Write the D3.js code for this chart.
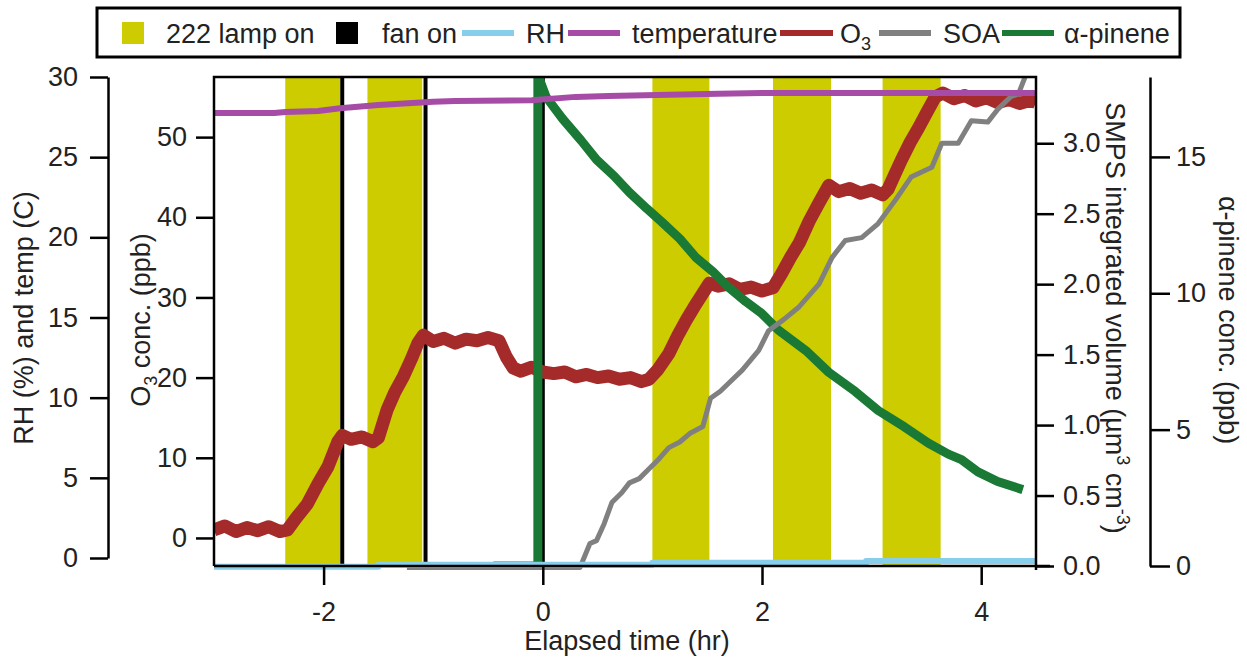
<!DOCTYPE html>
<html>
<head>
<meta charset="utf-8">
<script src="https://cdn.jsdelivr.net/npm/d3@7"></script>
<style>
  body { margin: 0; background: #fff; }
  text { font-family: "Liberation Sans", Arial, sans-serif; fill: #222; }
  .axis path, .axis line { stroke: #000; stroke-width: 2.5; }
  .axis text { font-size: 27px; }
</style>
</head>
<body>
<script>
const width = 1247;
const height = 657;

// lamp periods and fan events (hr)
const lampStart = [-2.35, -1.6, 1.0, 2.1, 3.1];
const lampEnd = [-1.85, -1.1, 1.52, 2.63, 3.63];
const fanTimes = [-1.83, -1.07, 0.0];

// RH (%)
const rhTime = [-3, -1.5, -1.5, 1.0, 1.0, 2.95, 2.95, 4.5];
const rhVal = [-0.55, -0.55, -0.42, -0.42, -0.3, -0.3, -0.18, -0.18];

// temperature (C)
const tempTime = [-3, -2.45, -2.35, -2.05, -1.85, -1.5, -1.0, -0.8, -0.1, 0.3, 0.6, 1.6, 2.0, 3.0, 4.5];
const tempVal = [27.76, 27.76, 27.82, 27.88, 28.05, 28.25, 28.45, 28.5, 28.55, 28.76, 28.82, 28.95, 29.0, 29.0, 29.0];

// O3 (ppb)
const o3Time = [-3, -2.9, -2.8, -2.7, -2.6, -2.5, -2.4, -2.33, -2.25, -2.15, -2.05, -1.96, -1.87, -1.83,
  -1.75, -1.65, -1.55, -1.5, -1.42, -1.35, -1.27, -1.2, -1.14, -1.09, -1.0, -0.9, -0.8, -0.7, -0.6,
  -0.5, -0.4, -0.33, -0.27, -0.2, -0.1, 0, 0.1, 0.2, 0.3, 0.4, 0.5, 0.6, 0.7, 0.8, 0.9, 0.97, 1.05,
  1.15, 1.23, 1.31, 1.38, 1.45, 1.52, 1.6, 1.7, 1.8, 1.9, 2.0, 2.1, 2.18, 2.26, 2.34, 2.43, 2.52,
  2.61, 2.7, 2.8, 2.9, 3.0, 3.1, 3.15, 3.21, 3.27, 3.35, 3.43, 3.5, 3.58, 3.65, 3.75, 3.85, 3.95,
  4.05, 4.15, 4.25, 4.35, 4.45, 4.5];
const o3Val = [1.0, 1.5, 0.8, 1.3, 0.9, 1.4, 0.8, 1.0, 2.5, 4.2, 6.8, 8.9, 12.0, 12.8,
  12.3, 12.6, 12.0, 12.5, 16.0, 18.2, 20.2, 22.3, 24.3, 25.3, 24.5, 24.9, 24.3, 24.8, 24.6,
  25.0, 24.6, 22.5, 21.2, 20.8, 21.3, 20.7, 20.5, 20.7, 20.1, 20.4, 20.0, 20.2, 19.8, 20.0, 19.5, 19.8, 21.0,
  23.0, 25.2, 27.2, 28.8, 30.3, 31.8, 31.4, 31.7, 31.0, 31.3, 30.8, 31.2, 33.0, 35.0, 36.8, 39.5, 41.8,
  44.0, 43.2, 43.6, 43.0, 43.4, 42.8, 43.5, 45.3, 47.1, 49.3, 51.2, 53.0, 55.0, 55.5, 54.8, 55.2, 54.5,
  54.9, 54.3, 54.7, 54.2, 54.6, 54.3];

// SOA, SMPS integrated volume (um3 cm-3)
const soaTime = [-1.24, 0.34, 0.43, 0.49, 0.56, 0.63, 0.72, 0.79, 0.88, 0.97, 1.06, 1.15, 1.25, 1.34,
  1.46, 1.53, 1.62, 1.7, 1.82, 1.97, 2.06, 2.2, 2.34, 2.43, 2.52, 2.64, 2.76, 2.91, 3.06, 3.22, 3.36,
  3.55, 3.64, 3.79, 3.91, 4.06, 4.15, 4.27, 4.34, 4.4, 4.45];
const soaVal = [-0.01, -0.01, 0.16, 0.18, 0.3, 0.45, 0.52, 0.59, 0.62, 0.69, 0.76, 0.84, 0.88, 0.94,
  0.99, 1.19, 1.24, 1.3, 1.39, 1.53, 1.67, 1.75, 1.84, 1.92, 2.0, 2.19, 2.31, 2.33, 2.43, 2.6, 2.76,
  2.83, 3.0, 3.0, 3.16, 3.15, 3.24, 3.33, 3.35, 3.47, 3.55];

// alpha-pinene (ppb)
const apTime = [-0.45, -0.045, -0.045, 0.03, 0.18, 0.35, 0.49, 0.65, 0.79, 0.95, 1.09, 1.25, 1.4, 1.55,
  1.7, 1.85, 2.0, 2.15, 2.4, 2.61, 2.85, 3.06, 3.3, 3.52, 3.7, 3.82, 3.97, 4.15, 4.38];
const apVal = [0, 0, 18, 17.2, 16.4, 15.6, 14.9, 14.3, 13.7, 13.1, 12.6, 12.0, 11.3, 10.8,
  10.2, 9.7, 9.25, 8.65, 7.9, 7.1, 6.4, 5.7, 5.1, 4.5, 4.1, 3.9, 3.45, 3.1, 2.8];

const xTicks = [-2, 0, 2, 4];
const rhTicks = [0, 5, 10, 15, 20, 25, 30];
const o3Ticks = [0, 10, 20, 30, 40, 50];
const soaTicks = [0, 0.5, 1.0, 1.5, 2.0, 2.5, 3.0];
const apTicks = [0, 5, 10, 15];

const colors = {
  lamp: "#cccc00",
  fan: "#000000",
  rh: "#87ceeb",
  temp: "#a64ca6",
  o3: "#a52a2a",
  soa: "#808080",
  ap: "#1a7a35"
};

const plotLeft = 214, plotRight = 1036, plotTop = 77, plotBottom = 566;

const x = d3.scaleLinear().domain([-3, 4.5]).range([plotLeft, plotRight]);
const yRH = d3.scaleLinear().domain([0, 30]).range([558, plotTop]);
const yO3 = d3.scaleLinear().domain([-3.5, 57.5]).range([plotBottom, plotTop]);
const ySOA = d3.scaleLinear().domain([0, 3.47]).range([plotBottom, plotTop]);
const yAP = d3.scaleLinear().domain([0, 17.93]).range([plotBottom, plotTop]);

const svg = d3.select("body").append("svg")
  .attr("width", width)
  .attr("height", height);

svg.append("defs").append("clipPath")
  .attr("id", "plot-clip")
  .append("rect")
  .attr("x", plotLeft).attr("y", plotTop)
  .attr("width", plotRight - plotLeft).attr("height", plotBottom - plotTop + 4);

const plot = svg.append("g").attr("clip-path", "url(#plot-clip)");

// lamp on periods
plot.selectAll(".lamp")
  .data(d3.zip(lampStart, lampEnd))
  .enter()
  .append("rect")
  .attr("class", "lamp")
  .attr("x", d => x(d[0]))
  .attr("width", d => x(d[1]) - x(d[0]))
  .attr("y", plotTop)
  .attr("height", plotBottom - plotTop)
  .attr("fill", colors.lamp);

// fan on
plot.selectAll(".fan")
  .data(fanTimes)
  .enter()
  .append("line")
  .attr("class", "fan")
  .attr("x1", d => x(d)).attr("x2", d => x(d))
  .attr("y1", plotTop).attr("y2", plotBottom)
  .attr("stroke", colors.fan)
  .attr("stroke-width", 4);

function drawSeries(times, values, yScale, color, w) {
  const line = d3.line()
    .x(d => x(d[0]))
    .y(d => yScale(d[1]));
  plot.append("path")
    .datum(d3.zip(times, values))
    .attr("d", line)
    .attr("fill", "none")
    .attr("stroke", color)
    .attr("stroke-width", w)
    .attr("stroke-linejoin", "round");
}

drawSeries(o3Time, o3Val, yO3, colors.o3, 13);
drawSeries(apTime, apVal, yAP, colors.ap, 9);
drawSeries(soaTime, soaVal, ySOA, colors.soa, 5);
drawSeries(rhTime, rhVal, yRH, colors.rh, 6);
drawSeries(tempTime, tempVal, yRH, colors.temp, 6);

// frame
svg.append("path")
  .attr("d", `M${plotLeft},${plotBottom}V${plotTop}H${plotRight}V${plotBottom + 4}`)
  .attr("fill", "none")
  .attr("stroke", "#000")
  .attr("stroke-width", 2.5);

// axes
svg.append("g")
  .attr("class", "axis")
  .attr("transform", `translate(0,${plotBottom})`)
  .call(d3.axisBottom(x).tickValues(xTicks).tickSize(19).tickSizeOuter(0).tickPadding(17)
    .tickFormat(d => String(d)))
  .call(g => g.select(".domain").attr("d", `M${plotLeft},0H${plotRight + 14}`));

svg.append("g")
  .attr("class", "axis")
  .attr("transform", "translate(108,0)")
  .call(d3.axisLeft(yRH).tickValues(rhTicks).tickSize(18).tickSizeOuter(0).tickPadding(12));

svg.append("g")
  .attr("class", "axis")
  .attr("transform", `translate(${plotLeft},0)`)
  .call(d3.axisLeft(yO3).tickValues(o3Ticks).tickSize(18).tickSizeOuter(0).tickPadding(9))
  .call(g => g.select(".domain").remove());

svg.append("g")
  .attr("class", "axis")
  .attr("transform", `translate(${plotRight},0)`)
  .call(d3.axisRight(ySOA).tickValues(soaTicks).tickSize(18).tickSizeOuter(0).tickPadding(9)
    .tickFormat(d3.format(".1f")))
  .call(g => g.select(".domain").remove());

svg.append("g")
  .attr("class", "axis")
  .attr("transform", "translate(1150,0)")
  .call(d3.axisRight(yAP).tickValues(apTicks).tickSize(20).tickSizeOuter(0).tickPadding(6));

svg.selectAll(".axis text").attr("fill", "#222");

// axis titles
svg.append("text")
  .attr("x", 627).attr("y", 650)
  .attr("text-anchor", "middle")
  .attr("font-size", 27)
  .text("Elapsed time (hr)");

svg.append("text")
  .attr("transform", "translate(33,318) rotate(-90)")
  .attr("text-anchor", "middle")
  .attr("font-size", 27)
  .text("RH (%) and temp (C)");

const o3Title = svg.append("text")
  .attr("transform", "translate(150,320) rotate(-90)")
  .attr("text-anchor", "middle")
  .attr("font-size", 27);
o3Title.append("tspan").text("O");
o3Title.append("tspan").attr("font-size", 18).attr("dy", 7).text("3");
o3Title.append("tspan").attr("dy", -7).text(" conc. (ppb)");

const soaTitle = svg.append("text")
  .attr("transform", "translate(1106,318) rotate(90)")
  .attr("text-anchor", "middle")
  .attr("font-size", 27);
soaTitle.append("tspan").text("SMPS integrated volume (µm");
soaTitle.append("tspan").attr("font-size", 18).attr("dy", -11).text("3");
soaTitle.append("tspan").attr("dy", 11).text(" cm");
soaTitle.append("tspan").attr("font-size", 18).attr("dy", -11).text("-3");
soaTitle.append("tspan").attr("dy", 11).text(")");

svg.append("text")
  .attr("transform", "translate(1219,320) rotate(90)")
  .attr("text-anchor", "middle")
  .attr("font-size", 27)
  .text("α-pinene conc. (ppb)");

// legend
const legend = svg.append("g");
legend.append("rect")
  .attr("x", 97).attr("y", 8)
  .attr("width", 1083).attr("height", 49)
  .attr("fill", "#fff")
  .attr("stroke", "#000")
  .attr("stroke-width", 3);

const legendY = 33;
const legendItems = [
  { kind: "box", color: colors.lamp, x0: 122, x1: 144, label: "222 lamp on", tx: 166 },
  { kind: "box", color: colors.fan, x0: 336, x1: 358, label: "fan on", tx: 382 },
  { kind: "line", color: colors.rh, x0: 462, x1: 514, label: "RH", tx: 526 },
  { kind: "line", color: colors.temp, x0: 568, x1: 620, label: "temperature", tx: 632 },
  { kind: "line", color: colors.o3, x0: 780, x1: 833, label: "O3", tx: 840 },
  { kind: "line", color: colors.soa, x0: 879, x1: 931, label: "SOA", tx: 943 },
  { kind: "line", color: colors.ap, x0: 1002, x1: 1054, label: "α-pinene", tx: 1064 }
];

legendItems.forEach(d => {
  if (d.kind === "box") {
    legend.append("rect")
      .attr("x", d.x0).attr("y", legendY - 11)
      .attr("width", d.x1 - d.x0).attr("height", 22)
      .attr("fill", d.color);
  } else {
    legend.append("line")
      .attr("x1", d.x0).attr("x2", d.x1)
      .attr("y1", legendY).attr("y2", legendY)
      .attr("stroke", d.color)
      .attr("stroke-width", 6);
  }
  const t = legend.append("text")
    .attr("x", d.tx).attr("y", legendY + 10)
    .attr("font-size", 27);
  if (d.label === "O3") {
    t.append("tspan").text("O");
    t.append("tspan").attr("font-size", 18).attr("dy", 7).text("3");
  } else {
    t.text(d.label);
  }
});
</script>
</body>
</html>
